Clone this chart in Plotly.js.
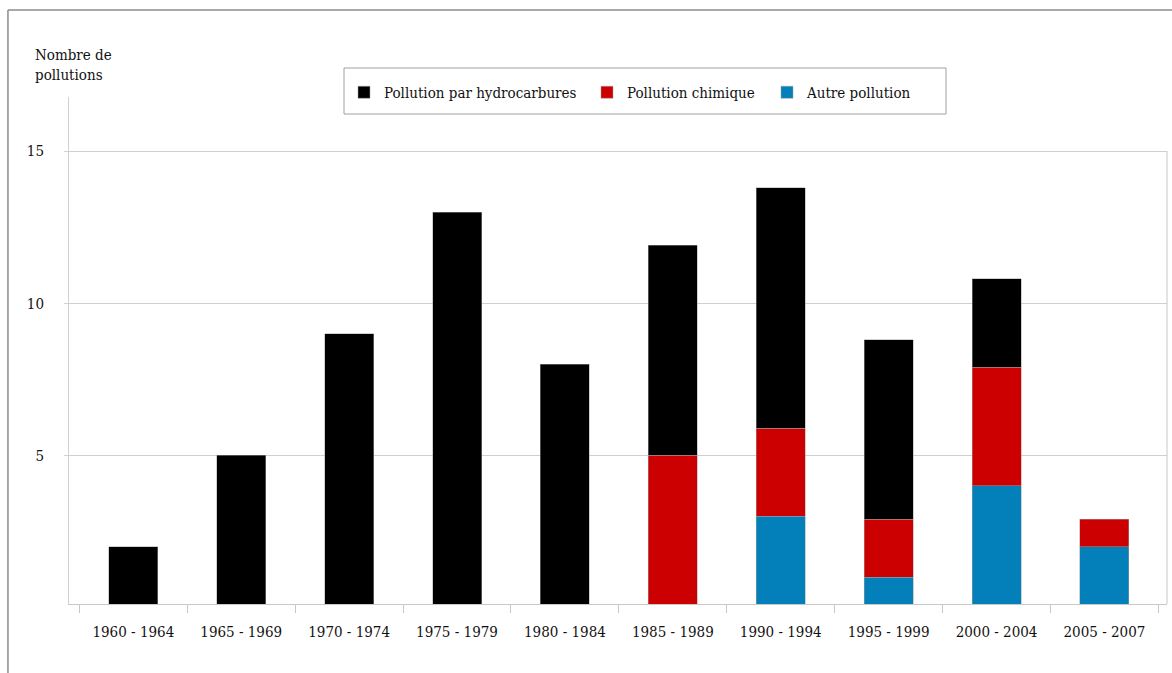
<!DOCTYPE html>
<html>
<head>
<meta charset="utf-8">
<script src="https://cdn.plot.ly/plotly-3.0.1.min.js"></script>
<style>
  html, body { margin: 0; padding: 0; background: #fff; }
  #chart { width: 1172px; height: 673px; }
</style>
</head>
<body>
<div id="chart"></div>
<script>
const categories = ["1960 - 1964", "1965 - 1969", "1970 - 1974", "1975 - 1979", "1980 - 1984",
                    "1985 - 1989", "1990 - 1994", "1995 - 1999", "2000 - 2004", "2005 - 2007"];
const autre = [null, null, null, null, null, null, 3, 1, 4, 2];
const chimique = [null, null, null, null, null, 5, 2.9, 1.9, 3.9, 0.9];
const hydrocarbures = [2, 5, 9, 13, 8, 6.9, 7.9, 5.9, 2.9, null];
const yTickValues = [5, 10, 15];
const yTickLabels = ["5", "10", "15"];

const FONT = "DejaVu Serif Condensed, DejaVu Serif, serif";
const edge = { color: "rgba(160,160,160,0.7)", width: 0.7 };

const traces = [
  { type: "bar", name: "Autre pollution", x: categories, y: autre, legendwidth: 120,
    marker: { color: "#037fb9", line: edge } },
  { type: "bar", name: "Pollution chimique", x: categories, y: chimique, legendwidth: 135,
    marker: { color: "#cc0000", line: edge } },
  { type: "bar", name: "Pollution par hydrocarbures", x: categories, y: hydrocarbures, legendwidth: 198,
    marker: { color: "#000000", line: edge } }
];

const layout = {
  width: 1172, height: 673,
  margin: { l: 69, r: 5, t: 97, b: 69, pad: 0 },
  paper_bgcolor: "#ffffff", plot_bgcolor: "#ffffff",
  font: { family: FONT, size: 15, color: "#111" },
  barmode: "stack",
  bargap: 0.546,
  showlegend: true,
  legend: {
    orientation: "h", traceorder: "reversed",
    x: (344 - 69) / 1098, xanchor: "left", y: (604 - 76) / 507, yanchor: "top",
    borderwidth: 0, bgcolor: "rgba(0,0,0,0)",
    font: { family: FONT, size: 15, color: "#111" },
    itemwidth: 30
  },
  xaxis: {
    type: "category",
    range: [-0.596, 9.58],
    tickson: "boundaries",
    ticks: "outside", ticklen: 8, tickcolor: "#c8c8c8", tickwidth: 1,
    showline: true, linecolor: "#c8c8c8", linewidth: 1,
    showgrid: false, zeroline: false,
    ticklabelstandoff: 14,
    tickfont: { family: FONT, size: 15, color: "#111" }
  },
  yaxis: {
    range: [0.115, 16.78],
    tickvals: yTickValues, ticktext: yTickLabels,
    ticks: "outside", ticklen: 4, tickcolor: "#d0d0d0",
    showline: true, linecolor: "#d0d0d0", linewidth: 1,
    showgrid: true, gridcolor: "#d0d0d0", gridwidth: 1,
    zeroline: false,
    ticklabelstandoff: 17,
    tickfont: { family: FONT, size: 15, color: "#111" }
  },
  annotations: [{
    text: "Nombre de<br>pollutions",
    xref: "paper", yref: "paper",
    x: (33 - 69) / 1098, y: (604 - 44) / 507, xanchor: "left", yanchor: "top", align: "left",
    showarrow: false,
    font: { family: FONT, size: 15, color: "#111" }
  }],
  shapes: [
    { type: "rect", xref: "paper", yref: "paper",
      x0: (344 - 69) / 1098, x1: (946 - 69) / 1098, y0: (604 - 114) / 507, y1: (604 - 68) / 507,
      line: { color: "#a0a0a0", width: 1 }, fillcolor: "rgba(0,0,0,0)" },
    { type: "line", xref: "paper", yref: "paper", x0: -0.0556, x1: 1.01, y0: 1.1716, y1: 1.1716,
      line: { color: "#8c8c8c", width: 1.5 } },
    { type: "line", xref: "paper", yref: "paper", x0: -0.0556, x1: -0.0556, y0: 1.1716, y1: -0.2,
      line: { color: "#8c8c8c", width: 1.5 } },
    { type: "line", xref: "paper", yref: "y", x0: 1, x1: 1, y0: 0.115, y1: 15,
      line: { color: "#c8c8c8", width: 1 } }
  ]
};

Plotly.newPlot("chart", traces, layout, { displayModeBar: false, staticPlot: true });
</script>
</body>
</html>
